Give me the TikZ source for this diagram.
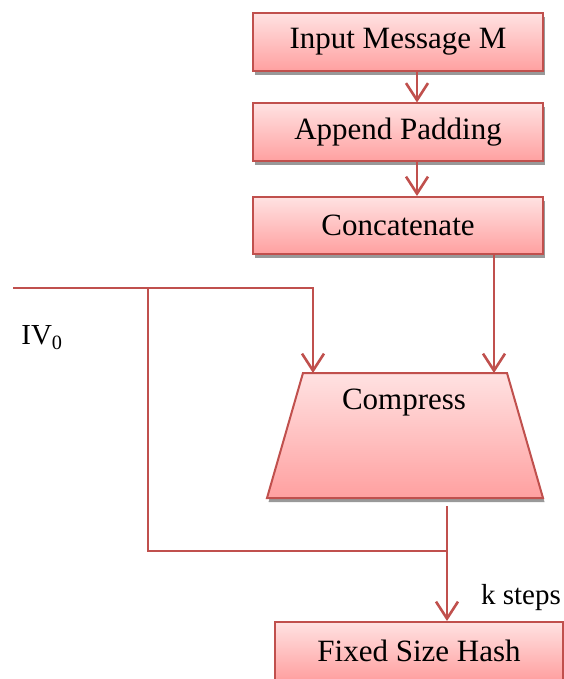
\documentclass[tikz,border=0pt]{standalone}
\usepackage{fontspec}
\setmainfont{Liberation Serif}
\usetikzlibrary{arrows.meta,shadows}
\definecolor{bord}{HTML}{C0504D}
\definecolor{ftop}{RGB}{255,226,226}
\definecolor{fbot}{RGB}{255,160,160}
\tikzset{
  x=1pt,y=1pt,
  boxstyle/.style={draw=bord, line width=2pt, top color=ftop, bottom color=fbot,
    minimum width=290pt, minimum height=58pt, inner sep=0pt,
    font=\fontsize{31}{37}\selectfont,
    drop shadow={shadow xshift=1.5pt, shadow yshift=-4pt, fill=black!40, opacity=1}},
  arr/.style={draw=bord, line width=2.6pt, -{Straight Barb[length=17pt,width=22pt,line width=2.6pt]}},
  ln/.style={draw=bord, line width=2.6pt},
  lbl/.style={font=\fontsize{29}{35}\selectfont, inner sep=0pt}
}
\begin{document}
\begin{tikzpicture}
\useasboundingbox (0,0) rectangle (563,-679);
% boxes
\node[boxstyle] (in)  at (398,-42)    {Input Message M};
\node[boxstyle] (pad) at (398,-132.5) {Append Padding};
\node[boxstyle, minimum height=57pt] (cat) at (398,-225.5) {Concatenate};
\node[boxstyle, minimum width=288pt] (hash) at (419,-651) {Fixed Size Hash};
% compress trapezoid
\coordinate (cbl) at (267,-498);
\coordinate (ctl) at (303,-373);
\coordinate (ctr) at (507,-373);
\coordinate (cbr) at (543,-498);
\path[draw=bord, line width=2pt, top color=ftop, bottom color=fbot,
  drop shadow={shadow xshift=1.5pt, shadow yshift=-4pt, fill=black!40, opacity=1}]
  (cbl) -- (ctl) -- (ctr) -- (cbr) -- cycle;
\node[font=\fontsize{31}{37}\selectfont, inner sep=0pt] (comp) at (404,-403) {Compress};
% labels
\node[lbl] (iv) at (42,-338) {IV\textsubscript{0}};
\node[lbl] (ks) at (521,-598) {k steps};
% coordinates
\coordinate (ivs) at (13,-288);
\coordinate (j1) at (148,-288);
\coordinate (p1) at (313,-288);
\coordinate (j2) at (148,-551);
\coordinate (j3) at (447,-551);
\coordinate (cout) at (447,-506);
% connectors
\draw[arr] ([xshift=19pt]in.south) -- ([xshift=19pt]pad.north);
\draw[arr] ([xshift=19pt]pad.south) -- ([xshift=19pt]cat.north);
\draw[arr] ([xshift=96pt]cat.south) -- ([xshift=96pt]cat.south |- ctl);
\draw[arr] (ivs) -- (p1) -- (p1 |- ctl);
\draw[ln] (j1) -- (j2) -- (j3);
\draw[arr] (cout) -- (cout |- hash.north);
\end{tikzpicture}
\end{document}
